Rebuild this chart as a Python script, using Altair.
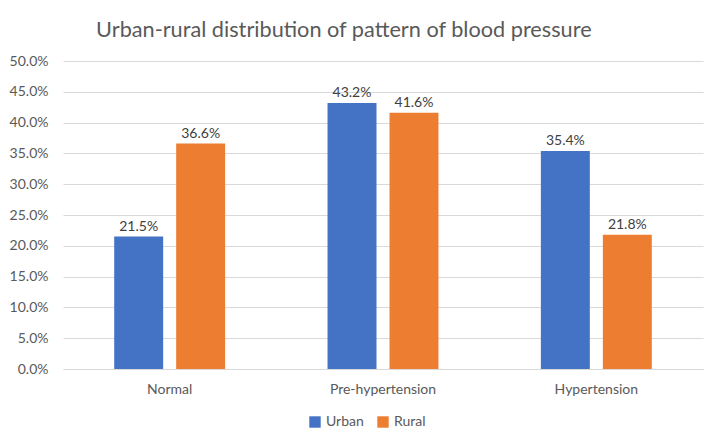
import altair as alt
import pandas as pd

categories = ["Normal", "Pre-hypertension", "Hypertension"]
groups = ["Urban", "Rural"]
urban = [0.215, 0.432, 0.354]
rural = [0.366, 0.416, 0.218]
colors = ["#4472C4", "#ED7D31"]
y_ticks = [0.0, 0.05, 0.10, 0.15, 0.20, 0.25, 0.30, 0.35, 0.40, 0.45, 0.50]

rows = []
for c, u, r in zip(categories, urban, rural):
    rows.append({"category": c, "area": "Urban", "value": u})
    rows.append({"category": c, "area": "Rural", "value": r})
df = pd.DataFrame(rows)

FONT = "Lato"
GREY = "#595959"

base = alt.Chart(df).encode(
    x=alt.X("category:N", sort=categories, title=None,
            scale=alt.Scale(paddingInner=0.48, paddingOuter=0.24),
            axis=alt.Axis(labelAngle=0, ticks=False, grid=False, domain=True,
                          domainColor="#D9D9D9",
                          labelPadding=13, labelFontSize=14, labelColor=GREY, labelFont=FONT)),
    xOffset=alt.XOffset("area:N", sort=groups,
                        scale=alt.Scale(paddingInner=0.21, paddingOuter=0)),
    y=alt.Y("value:Q", title=None,
            scale=alt.Scale(domain=[0, 0.5]),
            axis=alt.Axis(format=".1%", values=y_ticks, labelOverlap=False,
                          domain=False, ticks=False, labelPadding=15,
                          gridColor="#D9D9D9", labelFontSize=14, labelColor=GREY,
                          labelFont=FONT)),
)

bars = base.mark_bar().encode(
    color=alt.Color("area:N", sort=groups, title=None,
                    scale=alt.Scale(domain=groups, range=colors),
                    legend=alt.Legend(orient="none", legendX=245, legendY=354,
                                      direction="horizontal", symbolType="square",
                                      symbolSize=130, symbolStrokeWidth=0,
                                      labelFontSize=14, labelColor=GREY, labelFont=FONT,
                                      columnPadding=12)),
)

labels = base.mark_text(dy=-3, baseline="bottom", fontSize=14, color="#404040", font=FONT).encode(
    text=alt.Text("value:Q", format=".1%"),
)

chart = (bars + labels).properties(
    width=640,
    height=308,
    background="white",
    autosize=alt.AutoSizeParams(type="none"),
    padding={"left": 55, "top": 53, "right": 10, "bottom": 70},
    title=alt.TitleParams("Urban-rural distribution of pattern of blood pressure",
                          anchor="start", dx=87, offset=-5, baseline="alphabetic",
                          fontSize=21.7, font=FONT, fontWeight="normal", color=GREY),
).configure_view(strokeWidth=0)

chart.save("out.html", embed_options={"renderer": "svg", "actions": False})
